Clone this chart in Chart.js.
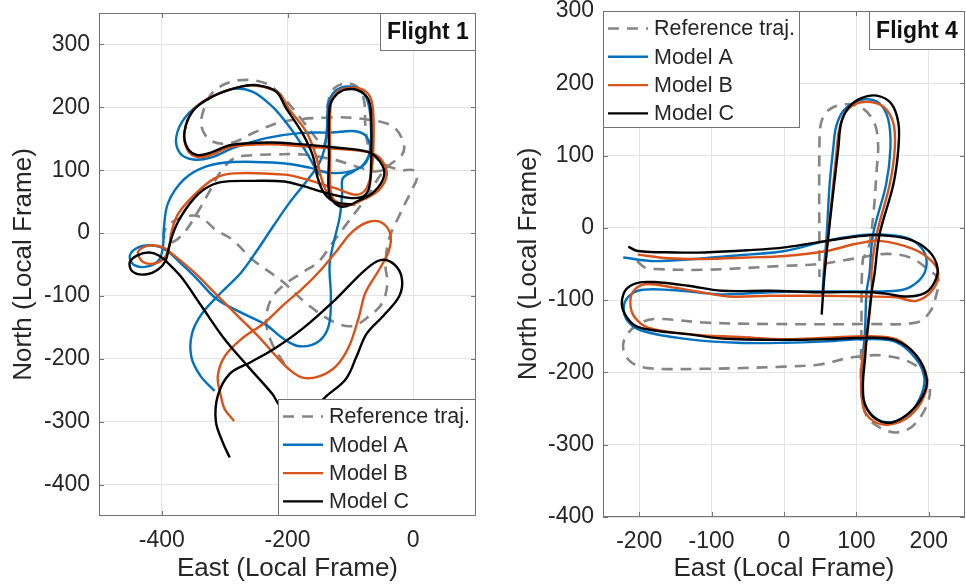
<!DOCTYPE html>
<html>
<head>
<meta charset="utf-8">
<script src="https://cdn.jsdelivr.net/npm/chart.js@4.4.1/dist/chart.umd.min.js"></script>
<style>
html,body{margin:0;padding:0;background:#fff;}
#wrap{position:relative;width:966px;height:584px;}
canvas{position:absolute;top:0;}
#c1{left:0;}
#c2{left:483px;}
</style>
</head>
<body>
<div id="wrap">
  <canvas id="c1" width="483" height="584"></canvas>
  <canvas id="c2" width="483" height="584"></canvas>
</div>
<script>
// Trajectories in the local East/North frame, one [east, north] pair per sample.

const SERIES=['Reference traj.','Model A','Model B','Model C'];
const COLORS=['#858585','#0072BD','#D95319','#000000'];

const F1_REF=[[-205,-208],[-225,-175],[-234,-140],[-226,-105],[-205,-82],[-175,-62],[-150,-45],[-128,-15],[-107,13],[-88,38],[-70,62],[-55,88],[-38,108],[-18,124],[-15,143],[-33,170],[-76,181],[-129,184],[-208,177],[-253,160],[-290,143],[-322,147],[-337,170],[-332,200],[-315,228],[-277,243],[-234,238],[-208,217],[-181,185],[-160,158],[-143,140],[-137,165],[-136,205],[-126,230],[-107,238],[-88,232],[-78,210],[-76,170],[-70,135],[-50,112],[-20,100],[0,100],[6,88],[-2,69],[-23,26],[-39,-11],[-44,-53],[-41,-79],[-49,-111],[-70,-132],[-97,-148],[-129,-140],[-171,-111],[-208,-77],[-256,-42],[-287,-11],[-314,5],[-340,26],[-368,25],[-392,10],[-396,-8],[-385,-15],[-365,0],[-345,30],[-327,61],[-306,98],[-285,119],[-253,124],[-221,125],[-176,125],[-123,116],[-91,106],[-62,98],[-48,100]];

const F1_A=[[-316,-251],[-338,-228],[-353,-197],[-352,-160],[-336,-128],[-306,-95],[-274,-63],[-248,-27],[-222,12],[-197,48],[-170,82],[-150,110],[-141,135],[-137,170],[-135,205],[-124,226],[-102,233],[-80,224],[-70,200],[-67,160],[-68,132],[-76,111],[-95,98],[-112,87],[-113,62],[-117,25],[-126,-13],[-133,-50],[-131,-100],[-134,-146],[-150,-172],[-181,-180],[-208,-167],[-234,-146],[-277,-125],[-314,-104],[-343,-74],[-370,-48],[-392,-28],[-412,-20],[-436,-22],[-451,-36],[-444,-51],[-422,-53],[-404,-42],[-398,-20],[-397,5],[-390,48],[-364,86],[-329,106],[-287,113],[-208,111],[-165,104],[-135,96],[-105,97],[-82,106],[-69,130],[-74,153],[-92,162],[-129,160],[-181,159],[-234,151],[-287,135],[-322,120],[-350,117],[-371,127],[-377,153],[-362,185],[-330,211],[-289,229],[-256,225],[-224,201],[-197,169],[-172,132],[-156,104],[-148,92]];

const F1_B=[[-285,-299],[-300,-280],[-306,-259],[-311,-228],[-300,-196],[-274,-169],[-237,-143],[-205,-113],[-176,-88],[-150,-62],[-123,-30],[-97,2],[-70,18],[-49,16],[-36,-3],[-39,-29],[-54,-58],[-76,-95],[-86,-132],[-102,-180],[-123,-212],[-150,-228],[-176,-230],[-197,-217],[-218,-196],[-242,-169],[-279,-132],[-316,-95],[-348,-63],[-385,-32],[-400,-22],[-422,-20],[-438,-30],[-430,-46],[-410,-48],[-395,-38],[-388,-20],[-385,0],[-375,29],[-348,61],[-316,87],[-285,95],[-205,93],[-176,87],[-123,71],[-91,61],[-75,70],[-66,100],[-63,150],[-65,205],[-75,225],[-97,231],[-120,225],[-131,205],[-132,120],[-131,65],[-120,47],[-100,45],[-80,53],[-55,68],[-42,92],[-50,116],[-68,128],[-123,134],[-176,138],[-229,141],[-290,137],[-322,124],[-343,121],[-359,132],[-364,161],[-348,198],[-316,219],[-274,233],[-248,234],[-214,223],[-198,198],[-170,161],[-155,124],[-146,87],[-136,63],[-118,48],[-92,45]];

const F1_C=[[-292,-357],[-303,-333],[-314,-300],[-311,-259],[-292,-224],[-258,-205],[-221,-184],[-176,-152],[-123,-105],[-78,-60],[-52,-43],[-30,-50],[-18,-72],[-22,-100],[-47,-131],[-74,-160],[-90,-196],[-107,-232],[-139,-260],[-165,-284],[-195,-286],[-214,-272],[-224,-256],[-263,-212],[-300,-169],[-337,-116],[-369,-70],[-390,-48],[-404,-36],[-420,-31],[-438,-35],[-451,-46],[-447,-61],[-427,-66],[-406,-58],[-394,-44],[-388,-20],[-382,0],[-372,22],[-353,50],[-332,70],[-306,81],[-253,83],[-205,82],[-176,75],[-139,64],[-102,56],[-80,58],[-70,72],[-67,110],[-67,190],[-72,214],[-88,227],[-108,228],[-124,218],[-133,200],[-134,120],[-134,64],[-124,47],[-110,42],[-88,51],[-62,66],[-46,92],[-53,114],[-72,129],[-123,136],[-176,141],[-229,144],[-290,140],[-322,128],[-343,124],[-359,135],[-364,161],[-350,195],[-318,218],[-274,233],[-248,235],[-218,225],[-203,200],[-177,160],[-160,124],[-152,88],[-142,64],[-124,49],[-97,46]];

const F4_REF=[[-203,-46],[-192,-55],[-179,-57],[-110,-58],[-8,-53],[49,-50],[100,-42],[141,-36],[174,-41],[201,-59],[213,-71],[210,-94],[201,-117],[183,-131],[118,-133],[-20,-133],[-110,-131],[-174,-126],[-197,-131],[-218,-149],[-222,-168],[-211,-186],[-188,-194],[-110,-195],[1,-192],[49,-189],[95,-179],[141,-177],[183,-191],[201,-219],[197,-246],[178,-274],[155,-283],[132,-276],[114,-260],[107,-228],[107,-136],[109,-43],[116,-32],[123,14],[128,80],[130,115],[125,145],[109,165],[86,171],[63,164],[52,148],[49,120],[49,-68]];

const F4_A=[[-222,-41],[-179,-46],[-110,-42],[-50,-37],[1,-32],[59,-18],[100,-11],[132,-9],[170,-14],[190,-28],[197,-46],[192,-66],[174,-82],[155,-87],[118,-88],[49,-88],[-20,-89],[-86,-92],[-156,-86],[-202,-87],[-220,-103],[-218,-126],[-197,-142],[-133,-154],[-64,-159],[1,-159],[60,-157],[114,-154],[155,-158],[183,-182],[194,-209],[187,-237],[169,-260],[141,-269],[118,-255],[108,-228],[109,-180],[112,-140],[114,-89],[118,-64],[123,-9],[141,60],[147,110],[144,150],[132,172],[116,178],[98,174],[82,162],[72,140],[68,110],[63,60],[59,-9],[55,-60],[53,-95]];

const F4_B=[[-202,-37],[-160,-42],[-110,-43],[-50,-41],[1,-39],[59,-32],[100,-22],[132,-18],[178,-29],[203,-45],[213,-62],[206,-85],[183,-101],[155,-96],[118,-95],[49,-94],[-20,-94],[-77,-95],[-120,-88],[-156,-82],[-192,-78],[-209,-89],[-212,-108],[-206,-124],[-188,-138],[-133,-147],[-60,-151],[1,-154],[60,-152],[118,-150],[155,-154],[183,-177],[197,-205],[194,-232],[174,-260],[146,-272],[123,-267],[109,-246],[107,-191],[114,-154],[121,-89],[121,-59],[128,-9],[146,60],[153,110],[151,145],[138,167],[120,174],[100,172],[85,160],[76,135],[72,100],[68,60],[61,-9],[56,-60]];

const F4_C=[[-215,-26],[-202,-32],[-150,-34],[-110,-34],[-50,-31],[1,-27],[59,-18],[100,-12],[132,-10],[173,-16],[200,-32],[212,-55],[208,-75],[195,-90],[170,-95],[140,-91],[118,-89],[49,-89],[-20,-87],[-86,-87],[-133,-80],[-179,-75],[-202,-76],[-218,-85],[-224,-103],[-220,-119],[-206,-135],[-179,-142],[-133,-147],[-86,-153],[1,-155],[60,-154],[118,-152],[155,-156],[183,-177],[197,-209],[192,-232],[174,-255],[150,-269],[128,-265],[112,-245],[109,-218],[112,-180],[114,-154],[121,-89],[125,-64],[132,-9],[151,60],[158,110],[158,145],[148,172],[128,183],[106,179],[89,166],[79,145],[75,110],[72,84],[63,5],[56,-64],[52,-120]];

const F1_XTICKS=[-400,-200,0];
const F1_YTICKS=[-400,-300,-200,-100,0,100,200,300];
const F4_XTICKS=[-200,-100,0,100,200];
const F4_YTICKS=[-400,-300,-200,-100,0,100,200,300];

const FONT="'Liberation Sans', Arial, sans-serif";
const INK='#262626';
const EDGE='#737373';
Chart.defaults.font.family=FONT;

function toPts(a){return a.map(p=>({x:p[0],y:p[1]}));}

function makeSets(series){
  return series.map((s,i)=>({
    label:SERIES[i],
    data:toPts(s),
    showLine:true,
    pointRadius:0,
    borderColor:COLORS[i],
    borderWidth:i===0?2.6:2.4,
    borderDash:i===0?[11,8]:[],
    tension:0.35,
    fill:false,
    order:4-i
  }));
}

// box, inward ticks, in-axes legend and the flight tag
const frame={
  id:'frame',
  afterDraw(chart,args,o){
    const {ctx,chartArea:a}=chart;
    const xs=chart.scales.x, ys=chart.scales.y;
    ctx.save();
    ctx.strokeStyle=EDGE;ctx.lineWidth=1;ctx.setLineDash([]);
    ctx.beginPath();
    xs.ticks.forEach(t=>{
      const p=Math.round(xs.getPixelForValue(t.value))+0.5;
      ctx.moveTo(p,a.bottom);ctx.lineTo(p,a.bottom-5);
      ctx.moveTo(p,a.top);ctx.lineTo(p,a.top+5);
    });
    ys.ticks.forEach(t=>{
      const p=Math.round(ys.getPixelForValue(t.value))+0.5;
      ctx.moveTo(a.left,p);ctx.lineTo(a.left+5,p);
      ctx.moveTo(a.right,p);ctx.lineTo(a.right-5,p);
    });
    ctx.stroke();
    ctx.strokeRect(Math.round(a.left)+0.5,Math.round(a.top)+0.5,Math.round(a.right-a.left)-1,Math.round(a.bottom-a.top)-1);

    // legend
    const L=o.legend;
    const lx=Math.round(L.right?a.right-L.w:a.left), ly=Math.round(L.bottom?a.bottom-L.h:a.top);
    ctx.fillStyle='#fff';ctx.fillRect(lx,ly,L.w,L.h);
    ctx.strokeRect(lx+0.5,ly+0.5,L.w-1,L.h-1);
    ctx.font='21.5px '+FONT;ctx.textBaseline='middle';ctx.textAlign='left';
    chart.data.datasets.forEach((d,i)=>{
      const y=ly+17.5+28.3*i;
      ctx.strokeStyle=d.borderColor;ctx.lineWidth=d.borderWidth;ctx.setLineDash(d.borderDash);
      ctx.beginPath();ctx.moveTo(lx+5,y);ctx.lineTo(lx+45,y);ctx.stroke();
      ctx.setLineDash([]);
      ctx.fillStyle=INK;ctx.fillText(d.label,lx+51,y+1);
    });

    // flight tag, top right corner
    const T=o.tag;
    const tx=Math.round(a.right-T.w), ty=Math.round(a.top);
    ctx.fillStyle='#fff';ctx.fillRect(tx,ty,T.w,T.h);
    ctx.strokeStyle=EDGE;ctx.lineWidth=1;
    ctx.strokeRect(tx+0.5,ty+0.5,T.w-1,T.h-1);
    ctx.fillStyle='#111';ctx.font='bold 23px '+FONT;ctx.textAlign='center';
    ctx.fillText(T.text,tx+T.w/2,ty+T.h/2+1);
    ctx.restore();
  }
};

function axis(min,max,ticks,title,isY,size,titlePad){
  return {
    type:'linear',min,max,
    afterBuildTicks:s=>{s.ticks=ticks.map(v=>({value:v}));},
    afterFit:s=>{
      if(isY) s.width=size; else s.height=size;
      s.paddingTop=0;s.paddingBottom=0;s.paddingLeft=0;s.paddingRight=0;
    },
    grid:{color:'#e3e3e3',lineWidth:1,drawTicks:false},
    border:{display:false},
    ticks:{color:INK,font:{size:23},padding:isY?9:11,callback:v=>String(v)},
    title:{display:true,text:title,color:INK,font:{size:26},padding:{top:titlePad,bottom:0}}
  };
}

function makeChart(id,series,cfg){
  return new Chart(document.getElementById(id),{
    type:'scatter',
    data:{datasets:makeSets(series)},
    options:{
      responsive:false,animation:false,devicePixelRatio:1,events:[],
      layout:{padding:{top:cfg.top,right:cfg.right,left:0,bottom:0}},
      plugins:{legend:{display:false},tooltip:{enabled:false},frame:{legend:cfg.legend,tag:cfg.tag}},
      scales:{
        x:axis(cfg.x[0],cfg.x[1],cfg.xt,'East (Local Frame)',false,cfg.xh,0),
        y:axis(cfg.y[0],cfg.y[1],cfg.yt,'North (Local Frame)',true,cfg.yw,cfg.titlePad)
      }
    },
    plugins:[frame]
  });
}

makeChart('c1',[F1_REF,F1_A,F1_B,F1_C],{
  x:[-500,100],y:[-450,350],xt:F1_XTICKS,yt:F1_YTICKS,
  top:13,right:7,xh:68,yw:99,titlePad:8,
  legend:{w:198,h:117,right:true,bottom:true},
  tag:{w:96,h:38,text:'Flight 1'}
});

makeChart('c2',[F4_REF,F4_A,F4_B,F4_C],{
  x:[-250,250],y:[-400,300],xt:F4_XTICKS,yt:F4_YTICKS,
  top:11,right:1,xh:67,yw:120,titlePad:30,
  legend:{w:197,h:117,right:false,bottom:false},
  tag:{w:96,h:39,text:'Flight 4'}
});
</script>
</body>
</html>
